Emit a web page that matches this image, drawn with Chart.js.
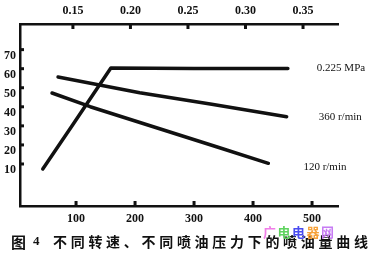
<!DOCTYPE html>
<html>
<head>
<meta charset="utf-8">
<script src="https://cdn.jsdelivr.net/npm/chart.js@4/dist/chart.umd.min.js"></script>
<style>
  html, body { margin: 0; padding: 0; background: #fff; }
  #wrap { width: 373px; height: 259px; position: relative; }
</style>
</head>
<body>
<div id="wrap"><canvas id="fuelChart"></canvas></div>
<script>
// ---------------- data ----------------
// bottom axis: speed (r/min), top axis: pressure (MPa), left: delivery
const speedTicks = [100, 200, 300, 400, 500];
const pressureTicks = [0.15, 0.2, 0.25, 0.3, 0.35];
const deliveryTicks = [10, 20, 30, 40, 50, 60, 70];

// 0.225 MPa curve (plotted against speed)
const mpaX = [43.6, 95, 159, 300, 459];
const mpaY = [10.5, 34, 63.5, 63.3, 63.3];
// 360 r/min curve
const r360X = [69.5, 208, 330, 457];
const r360Y = [58.8, 50.5, 44.5, 37.9];
// 120 r/min curve
const r120X = [59.3, 124, 338, 426];
const r120Y = [50.4, 43.2, 22.2, 13.5];

const seriesNames = ["0.225 MPa", "360 r/min", "120 r/min"];
const caption = "不同转速、不同喷油压力下的喷油量曲线";

function toPoints(xs, ys) {
  return xs.map((x, i) => ({ x: x, y: ys[i] }));
}

const ink = "#111";
const tickFont = { family: "'Liberation Serif', 'DejaVu Serif', serif", size: 12, weight: "bold" };

function fixedTicks(values) {
  return (scale) => {
    scale.ticks = values.map((v) => ({ value: v }));
  };
}

// small stubs drawn inside the plot at every tick, plus the end labels and caption
const extras = {
  id: "extras",
  afterDraw(chart) {
    const ctx = chart.ctx;
    const area = chart.chartArea;
    const sx = chart.scales.x;
    const sx2 = chart.scales.x2;
    const sy = chart.scales.y;
    ctx.save();
    ctx.strokeStyle = ink;
    ctx.lineWidth = 3;
    speedTicks.forEach((v) => {
      const px = sx.getPixelForValue(v);
      ctx.beginPath();
      ctx.moveTo(px, area.bottom);
      ctx.lineTo(px, area.bottom - 5);
      ctx.stroke();
    });
    pressureTicks.forEach((v) => {
      const px = sx2.getPixelForValue(v);
      ctx.beginPath();
      ctx.moveTo(px, area.top);
      ctx.lineTo(px, area.top + 5);
      ctx.stroke();
    });
    deliveryTicks.forEach((v) => {
      const py = sy.getPixelForValue(v) - 6;
      ctx.beginPath();
      ctx.moveTo(area.left, py);
      ctx.lineTo(area.left + 4, py);
      ctx.stroke();
    });

    // series names next to the line ends
    const offsets = [[29, 0], [32, 0], [35, 4]];
    ctx.fillStyle = ink;
    ctx.font = "11px 'Liberation Serif', serif";
    ctx.textBaseline = "middle";
    chart.data.datasets.forEach((ds, i) => {
      const last = ds.data[ds.data.length - 1];
      const px = sx.getPixelForValue(last.x) + offsets[i][0];
      const py = sy.getPixelForValue(last.y) + offsets[i][1];
      ctx.fillText(ds.label, px, py);
    });

    // caption
    ctx.font = "bold 15px 'Noto Sans CJK SC', sans-serif";
    ctx.fillText("图", 11, 242);
    ctx.font = "bold 13px 'Liberation Serif', serif";
    ctx.fillText("4", 33, 242);
    ctx.font = "bold 14px 'Noto Sans CJK SC', sans-serif";
    [...caption].forEach((ch, i) => {
      ctx.fillText(ch, 53 + i * 17.7, 242);
    });

    // site mark over the lower right
    const mark = ["广", "电", "电", "器", "网"];
    const markColors = ["#f07ee8", "#5fd35f", "#4a4cf0", "#f7a23a", "#c77cf4"];
    ctx.font = "bold 13px 'Noto Sans CJK SC', sans-serif";
    mark.forEach((ch, i) => {
      ctx.fillStyle = markColors[i];
      ctx.fillText(ch, 263 + i * 14.5, 232);
    });
    ctx.restore();
  },
};

const lineStyle = {
  borderColor: ink,
  backgroundColor: ink,
  borderWidth: 3.5,
  pointRadius: 0,
  tension: 0,
  borderCapStyle: "round",
  borderJoinStyle: "round",
  xAxisID: "x",
  yAxisID: "y",
};

const ctx = document.getElementById("fuelChart").getContext("2d");
const chart = new Chart(ctx, {
  type: "line",
  data: {
    datasets: [
      { label: seriesNames[0], data: toPoints(mpaX, mpaY), ...lineStyle },
      { label: seriesNames[1], data: toPoints(r360X, r360Y), ...lineStyle },
      { label: seriesNames[2], data: toPoints(r120X, r120Y), ...lineStyle },
    ],
  },
  options: {
    responsive: true,
    maintainAspectRatio: false,
    animation: false,
    layout: { padding: { left: 0, right: 35, top: 0, bottom: 0 } },
    plugins: {
      legend: { display: false },
      tooltip: { enabled: false },
    },
    scales: {
      x: {
        type: "linear",
        position: "bottom",
        min: 5,
        max: 544,
        afterBuildTicks: fixedTicks(speedTicks),
        afterFit: (s) => { s.height = 53; },
        border: { display: true, color: ink, width: 2.5 },
        grid: { drawOnChartArea: false, drawTicks: false },
        ticks: { color: ink, font: tickFont, padding: 6, maxRotation: 0 },
      },
      x2: {
        type: "linear",
        position: "top",
        min: 0.104,
        max: 0.3804,
        afterBuildTicks: fixedTicks(pressureTicks),
        afterFit: (s) => { s.height = 24; },
        border: { display: true, color: ink, width: 2.5 },
        grid: { drawOnChartArea: false, drawTicks: false },
        ticks: {
          color: ink,
          font: tickFont,
          padding: 6,
          maxRotation: 0,
          callback: (v) => v.toFixed(2),
        },
      },
      y: {
        type: "linear",
        min: -8.9,
        max: 86.6,
        afterBuildTicks: fixedTicks(deliveryTicks),
        afterFit: (s) => { s.width = 20; },
        border: { display: true, color: ink, width: 2.5 },
        grid: { drawOnChartArea: false, drawTicks: false },
        ticks: { color: ink, font: tickFont, padding: 4 },
      },
    },
  },
  plugins: [extras],
});
</script>
</body>
</html>
